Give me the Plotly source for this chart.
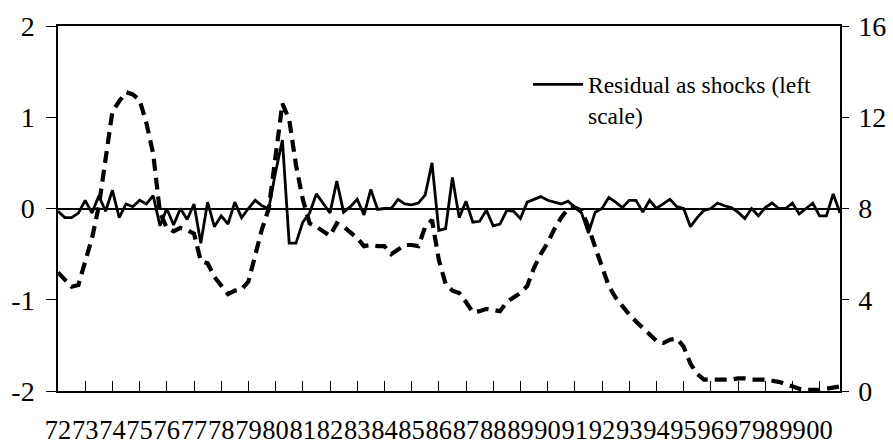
import plotly.graph_objects as go

years = ["72","73","74","75","76","77","78","79","80","81","82","83","84","85",
         "86","87","88","89","90","91","92","93","94","95","96","97","98","99","00"]
left_ticks = [-2, -1, 0, 1, 2]
left_labels = ["-2", "-1", "0", "1", "2"]
right_ticks = [0, 4, 8, 12, 16]

# quarterly residual shocks (left scale), 1972Q1..2000Q4
residual = [-0.03,-0.10,-0.10,-0.05, 0.09,-0.05, 0.14,-0.03,
            0.20,-0.10, 0.05, 0.02, 0.09, 0.05, 0.14,-0.19,
            0.00,-0.18, 0.00,-0.12, 0.05,-0.38, 0.07,-0.20,
            -0.08,-0.17, 0.07,-0.10, 0.00, 0.09, 0.03, 0.00,
            0.40, 0.75,-0.38,-0.38,-0.15,-0.05, 0.16, 0.05,
            -0.05, 0.30,-0.04, 0.02, 0.10,-0.07, 0.21,-0.01,
            0.00, 0.00, 0.10, 0.05, 0.04, 0.06, 0.15, 0.50,
            -0.24,-0.22, 0.34,-0.10, 0.08,-0.15,-0.14,-0.02,
            -0.19,-0.17,-0.02,-0.03,-0.11, 0.07, 0.10, 0.13,
            0.09, 0.07, 0.05, 0.08, 0.02,-0.05,-0.27,-0.04,
            0.00, 0.12, 0.07, 0.01, 0.09, 0.09,-0.04, 0.09,
            0.00, 0.05, 0.10, 0.02, 0.00,-0.20,-0.10,-0.02,
            0.00, 0.06, 0.03, 0.01,-0.04,-0.11, 0.00,-0.08,
            0.01, 0.06, 0.00, 0.00, 0.06,-0.06, 0.00, 0.06,
            -0.08,-0.08, 0.16,-0.05]

# quarterly rate (right scale)
rate = [5.20, 4.85, 4.57, 4.65, 5.60, 6.70, 8.10, 10.10,
        12.25, 12.70, 13.10, 13.00, 12.75, 11.75, 10.40, 7.80,
        7.15, 7.00, 7.15, 7.05, 6.90, 5.70, 5.60, 5.00,
        4.60, 4.25, 4.40, 4.45, 4.80, 5.90, 7.10, 8.00,
        10.30, 12.60, 11.90, 9.90, 8.40, 7.35, 7.20, 7.00,
        6.80, 7.35, 7.20, 6.95, 6.70, 6.35, 6.40, 6.35,
        6.35, 6.00, 6.20, 6.40, 6.40, 6.35, 7.20, 7.50,
        5.75, 4.70, 4.40, 4.30, 3.90, 3.45, 3.50, 3.60,
        3.55, 3.50, 3.90, 4.10, 4.30, 4.60, 5.40, 6.00,
        6.50, 7.10, 7.60, 8.00, 8.05, 7.90, 7.20, 6.30,
        5.40, 4.60, 4.10, 3.70, 3.35, 3.05, 2.75, 2.45,
        2.20, 2.10, 2.25, 2.30, 1.95, 1.20, 0.75, 0.50,
        0.50, 0.50, 0.50, 0.50, 0.55, 0.55, 0.50, 0.50,
        0.50, 0.45, 0.40, 0.30, 0.20, 0.10, 0.05, 0.05,
        0.05, 0.10, 0.15, 0.20]

quarters = list(range(len(residual)))
year_ticks = [4 * k for k in range(len(years))]

FONT = "Liberation Serif, Times New Roman, serif"

fig = go.Figure()
fig.add_trace(go.Scatter(
    x=quarters, y=rate, yaxis="y2", mode="lines",
    line=dict(color="black", width=4.2, dash="12px,7px"),
    showlegend=False, hoverinfo="skip"))
fig.add_trace(go.Scatter(
    x=quarters, y=residual, mode="lines",
    line=dict(color="black", width=2.8),
    name="Residual as shocks (left<br>scale)"))

fig.update_layout(
    width=893, height=446,
    margin=dict(l=58, r=53, t=26, b=55),
    paper_bgcolor="white", plot_bgcolor="white",
    font=dict(family=FONT, color="black"),
    xaxis=dict(range=[0, len(residual) - 1], tickvals=year_ticks, ticktext=years,
               ticks="inside", ticklen=10, tickcolor="black", tickwidth=1,
               showline=True, linecolor="black", linewidth=1.5, mirror=True,
               showgrid=False, zeroline=False, tickangle=0, automargin=False,
               tickfont=dict(size=26.5), ticklabelstandoff=14),
    yaxis=dict(range=[-2, 2], tickvals=left_ticks, ticktext=left_labels,
               ticks="outside", ticklen=10, tickcolor="black", tickwidth=1,
               showline=True, linecolor="black", linewidth=1.5, automargin=False,
               showgrid=False, zeroline=True, zerolinecolor="black", zerolinewidth=2.2,
               tickfont=dict(size=28), ticklabelstandoff=6),
    yaxis2=dict(range=[0, 16], tickvals=right_ticks, overlaying="y", side="right",
                ticks="outside", ticklen=7, tickcolor="black", tickwidth=1,
                showline=True, linecolor="black", linewidth=1.5, automargin=False,
                showgrid=False, zeroline=False,
                tickfont=dict(size=28), ticklabelstandoff=4),
    legend=dict(x=0.601, y=0.90, xanchor="left", yanchor="top",
                bgcolor="rgba(0,0,0,0)", font=dict(size=23.5, family=FONT),
                valign="top", itemwidth=50),
)

fig.write_html("out.html", config={"displayModeBar": False},
               post_script="document.body.style.margin='0px';document.body.style.overflow='hidden';")
